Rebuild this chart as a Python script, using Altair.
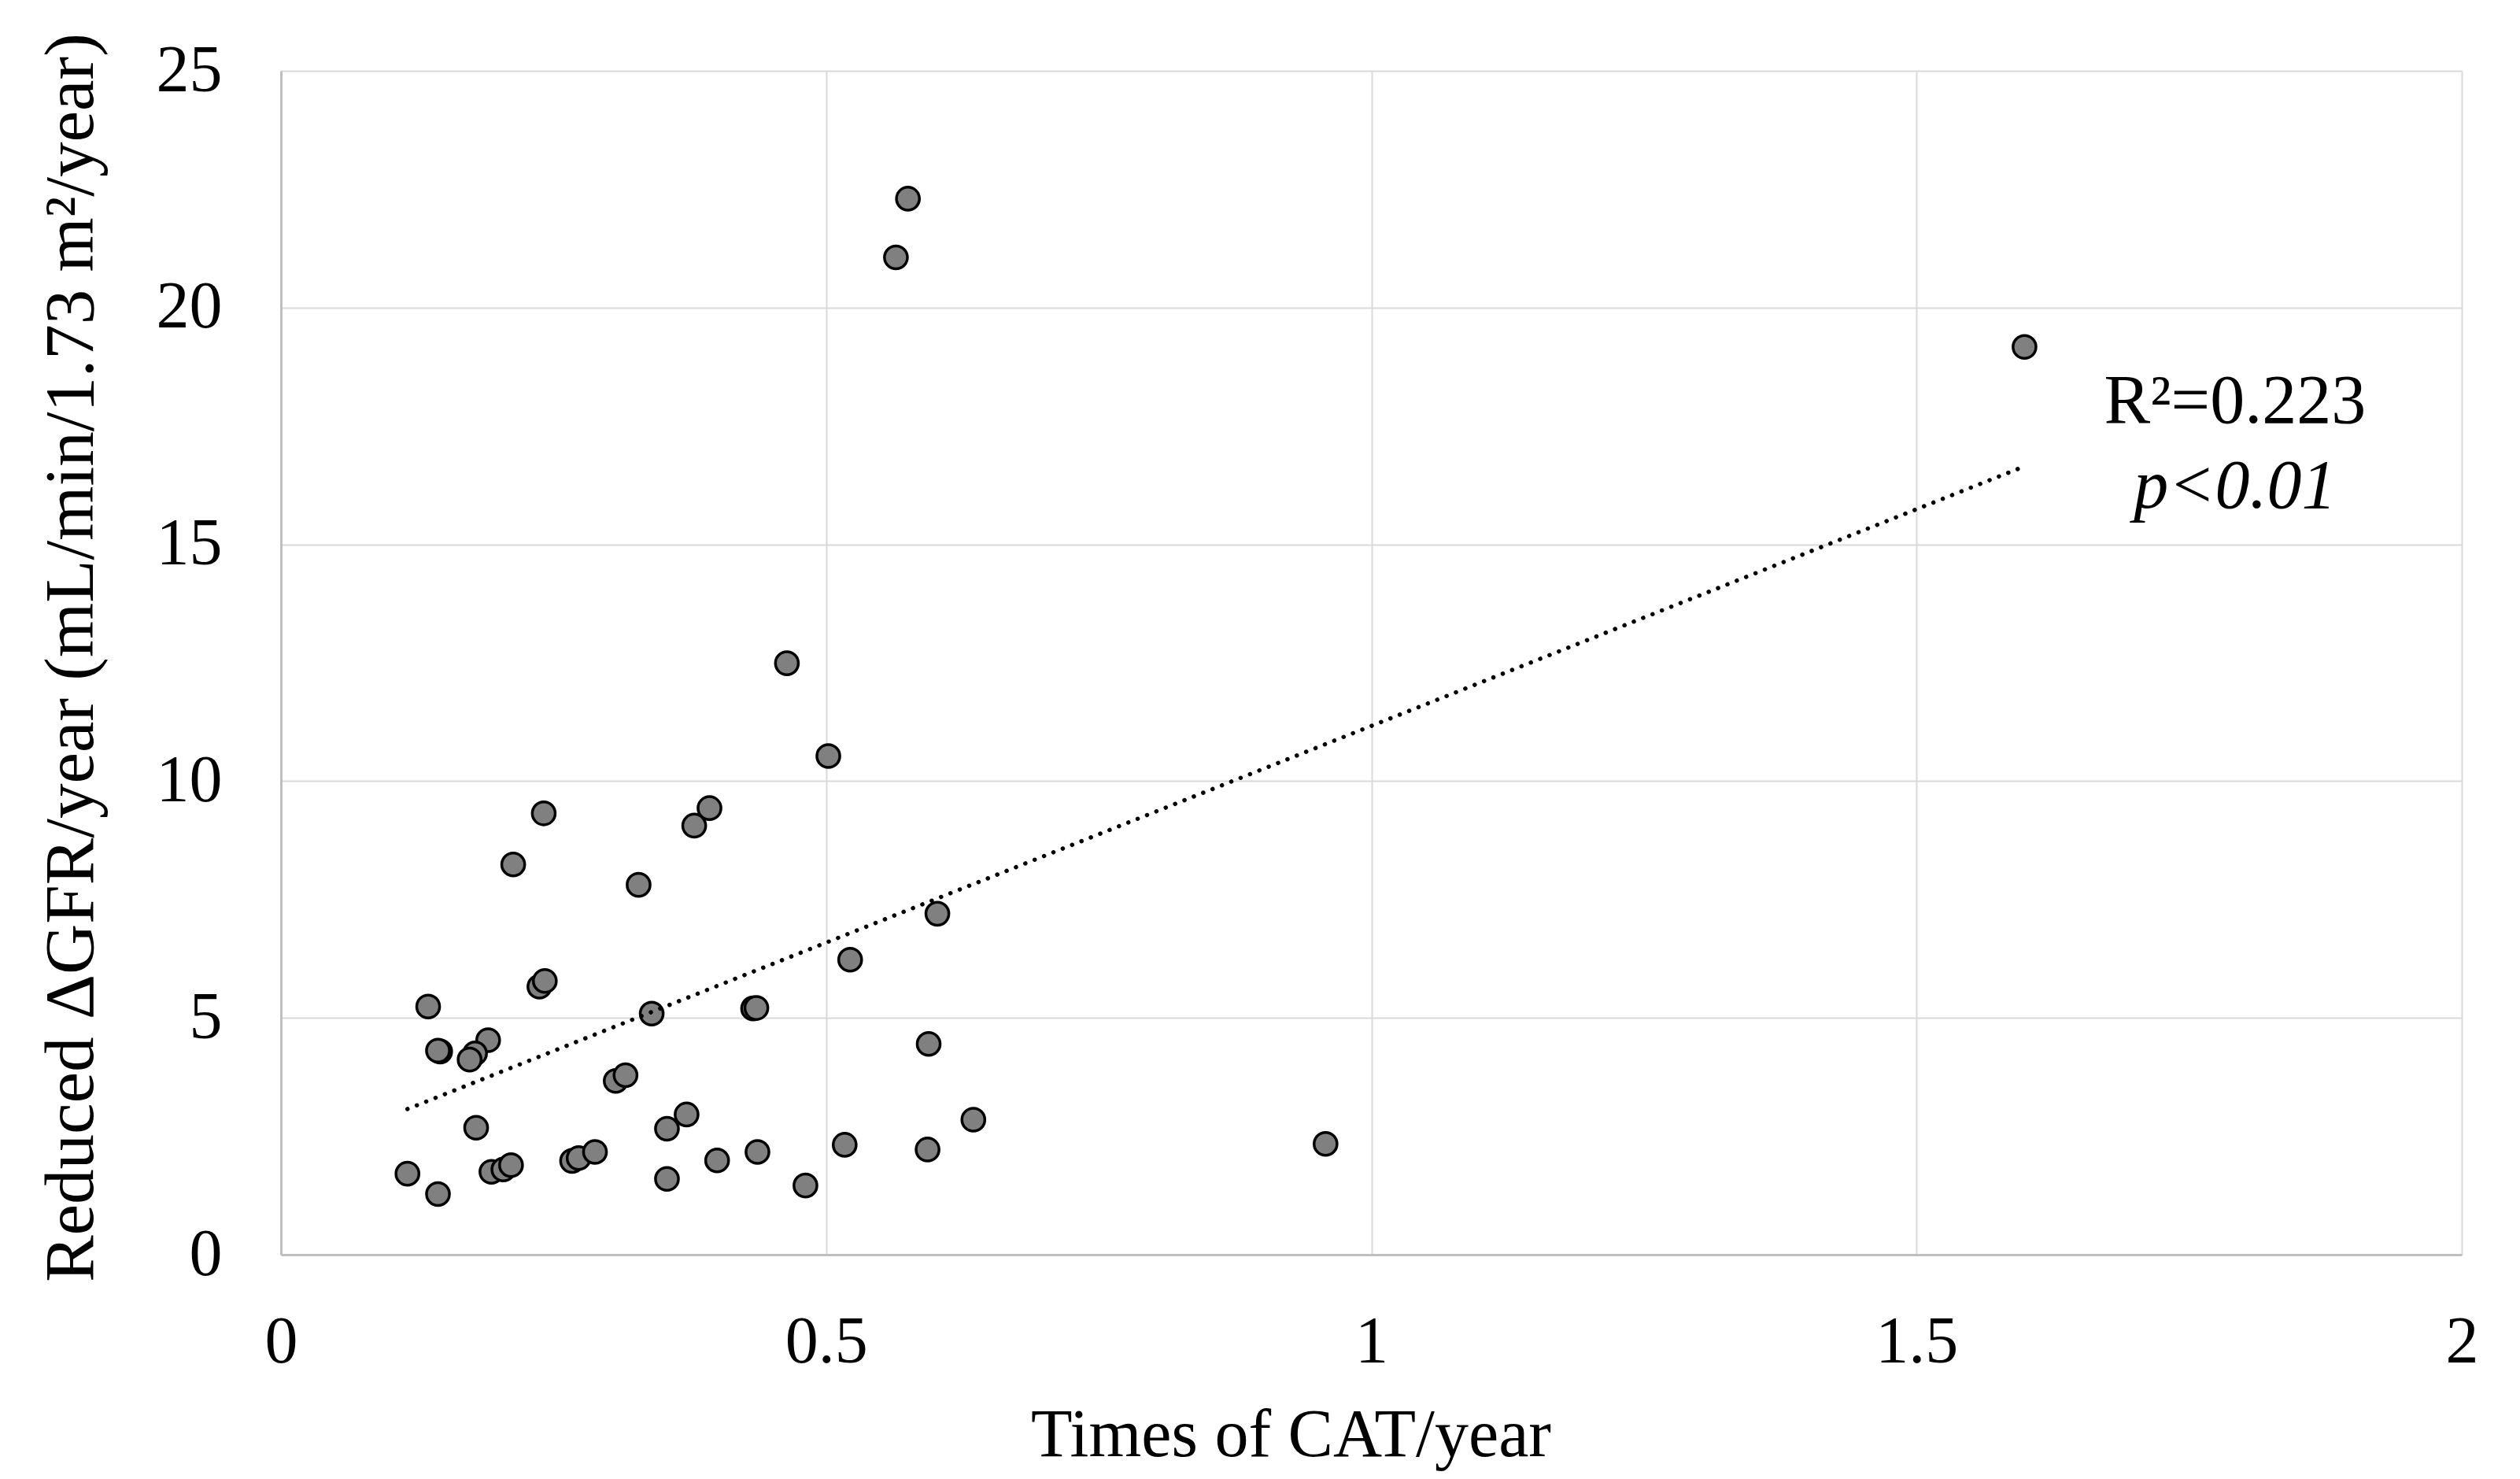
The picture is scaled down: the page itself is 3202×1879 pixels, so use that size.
import altair as alt
import pandas as pd

# ---- data ----
cat_per_year = [0.116, 0.144, 0.135, 0.146, 0.144, 0.190, 0.178, 0.173, 0.179, 0.193,
                0.204, 0.211, 0.213, 0.237, 0.242, 0.241, 0.267, 0.273, 0.288, 0.307,
                0.316, 0.328, 0.340, 0.354, 0.372, 0.354, 0.400, 0.433, 0.436, 0.437,
                0.379, 0.393, 0.464, 0.481, 0.502, 0.517, 0.522, 0.564, 0.575, 0.593,
                0.594, 0.602, 0.635, 0.958, 1.599]
delta_gfr = [1.71, 1.28, 5.24, 4.29, 4.31, 4.53, 4.25, 4.12, 2.68, 1.75,
             1.80, 1.89, 8.24, 5.66, 5.78, 9.32, 1.98, 2.04, 2.17, 3.67,
             3.79, 7.81, 5.09, 2.66, 2.96, 1.60, 1.99, 5.20, 5.21, 2.17,
             9.06, 9.43, 12.49, 1.46, 10.53, 2.32, 6.23, 21.06, 22.30, 2.22,
             4.45, 7.20, 2.85, 2.34, 19.17]
x_ticks = [0, 0.5, 1, 1.5, 2]
y_ticks = [0, 5, 10, 15, 20, 25]
r2_text = ["R\u00b2=0.223"]
p_text = ["p<0.01"]
annot_x = [1.792]
r2_y = [17.57]
p_y = [15.77]

df = pd.DataFrame({"x": cat_per_year, "y": delta_gfr})
df_r2 = pd.DataFrame({"x": annot_x, "y": r2_y, "t": r2_text})
df_p = pd.DataFrame({"x": annot_x, "y": p_y, "t": p_text})

FONT = "Liberation Serif"
W, H = 2771, 1504

xscale = alt.Scale(domain=[0, 2], nice=False)
yscale = alt.Scale(domain=[0, 25], nice=False)

x_axis = alt.Axis(values=x_ticks, format="~g", title="Times of CAT/year",
                  labelFont=FONT, labelFontSize=84, labelColor="black", labelPadding=70,
                  labelFlush=False,
                  ticks=False, domainColor="#bfbfbf", domainWidth=3,
                  grid=True, gridColor="#d9d9d9", gridWidth=2,
                  titleFont=FONT, titleFontSize=86, titleFontWeight="normal", titleColor="black",
                  titleX=1283, titleY=255, titleAlign="center", titleBaseline="alphabetic")
y_axis = alt.Axis(values=y_ticks, format="d",
                  title="Reduced \u0394GFR/year (mL/min/1.73 m\u00b2/year)",
                  labelFont=FONT, labelFontSize=84, labelColor="black", labelPadding=75,
                  labelFlush=False,
                  ticks=False, domainColor="#bfbfbf", domainWidth=3,
                  grid=True, gridColor="#d9d9d9", gridWidth=2,
                  titleFont=FONT, titleFontSize=89, titleFontWeight="normal", titleColor="black",
                  titleAngle=270, titleX=-240, titleY=745, titleAlign="center",
                  titleBaseline="alphabetic")

base = alt.Chart(df)

points = base.mark_circle(color="#808080", stroke="black", strokeWidth=3.5, size=850,
                          opacity=1).encode(
    x=alt.X("x:Q", scale=xscale, axis=x_axis),
    y=alt.Y("y:Q", scale=yscale, axis=y_axis),
)

trend = base.transform_regression("x", "y").mark_line(
    color="black", strokeWidth=5.5, strokeDash=[0.1, 12.7], strokeCap="round"
).encode(x=alt.X("x:Q", scale=xscale), y=alt.Y("y:Q", scale=yscale))

r2 = alt.Chart(df_r2).mark_text(font=FONT, fontSize=88, color="black",
                                align="center", baseline="alphabetic").encode(
    x=alt.X("x:Q", scale=xscale), y=alt.Y("y:Q", scale=yscale), text="t:N")
p = alt.Chart(df_p).mark_text(font=FONT, fontSize=88, color="black", fontStyle="italic",
                              align="center", baseline="alphabetic").encode(
    x=alt.X("x:Q", scale=xscale), y=alt.Y("y:Q", scale=yscale), text="t:N")

chart = alt.layer(points, trend, r2, p).properties(
    width=W, height=H,
    autosize=alt.AutoSizeParams(type="none"),
    padding={"left": 349, "top": 82, "right": 50, "bottom": 276},
    background="white",
).configure_view(strokeWidth=0)

chart.save("out.html", embed_options={"renderer": "svg", "actions": False})
